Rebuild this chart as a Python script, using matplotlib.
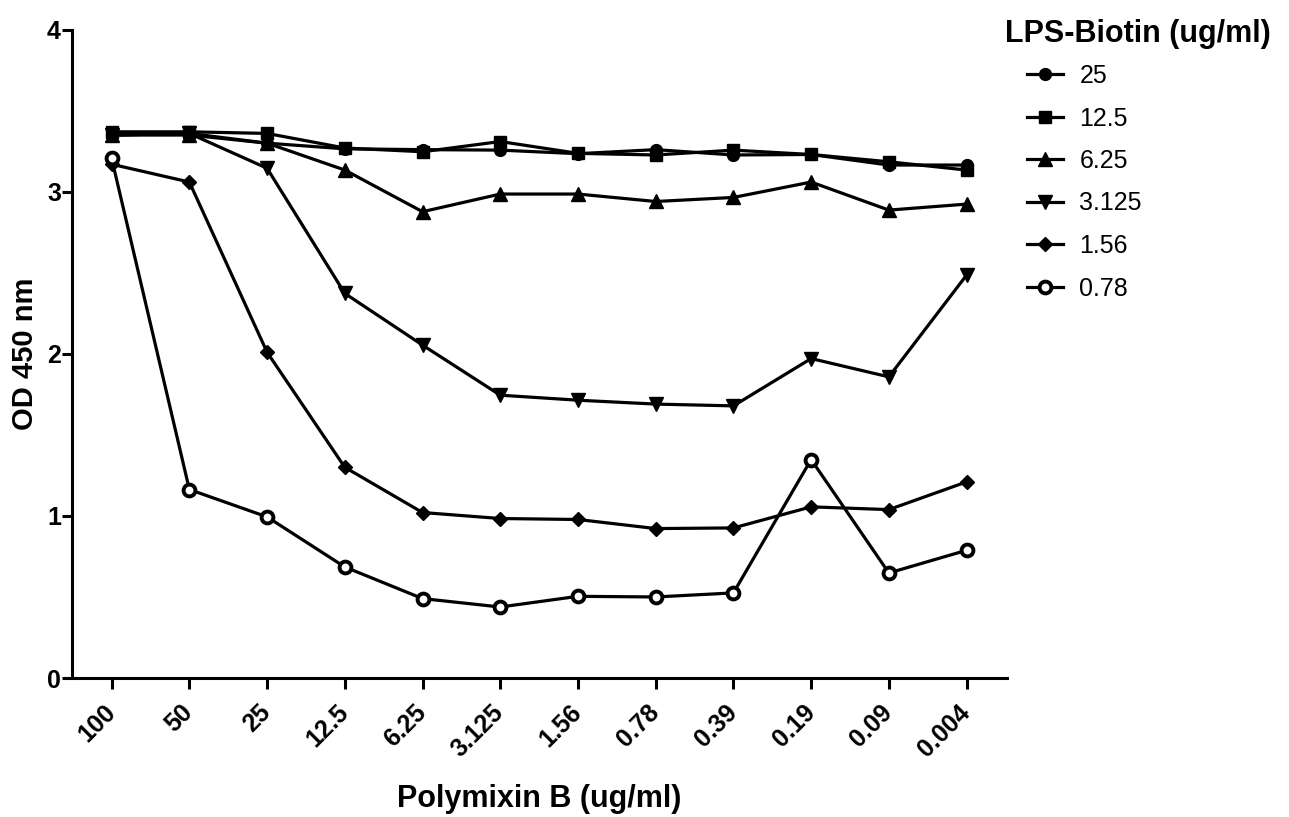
import matplotlib
matplotlib.use("Agg")
import matplotlib.pyplot as plt

plt.rcParams['font.family'] = ['Liberation Sans', 'DejaVu Sans']

x_labels = ['100', '50', '25', '12.5', '6.25', '3.125', '1.56', '0.78', '0.39', '0.19', '0.09', '0.004']

s25 = [3.35, 3.36, 3.30, 3.265, 3.26, 3.257, 3.235, 3.26, 3.227, 3.23, 3.165, 3.165]
s12_5 = [3.37, 3.37, 3.36, 3.27, 3.247, 3.31, 3.237, 3.227, 3.257, 3.23, 3.185, 3.134]
s6_25 = [3.35, 3.35, 3.30, 3.134, 2.877, 2.986, 2.986, 2.94, 2.965, 3.06, 2.887, 2.924]
s3_125 = [3.35, 3.36, 3.145, 2.373, 2.054, 1.745, 1.714, 1.69, 1.679, 1.971, 1.858, 2.486]
s1_56 = [3.17, 3.06, 2.01, 1.30, 1.021, 0.984, 0.978, 0.922, 0.926, 1.056, 1.039, 1.21]
s0_78 = [3.206, 1.163, 0.994, 0.685, 0.49, 0.438, 0.504, 0.50, 0.525, 1.348, 0.648, 0.788]

series_labels = ['25', '12.5', '6.25', '3.125', '1.56', '0.78']
series = [s25, s12_5, s6_25, s3_125, s1_56, s0_78]
markers = ['o', 's', '^', 'v', 'D', 'o']
msizes = [8.5, 9, 9.5, 9.5, 7.5, 8.5]

W, H = 1289, 817
fig = plt.figure(figsize=(W / 100, H / 100), dpi=100)
ax = fig.add_axes([72 / W, 1 - 678 / H, (1007 - 72) / W, (678 - 29.7) / H])

xs = list(range(len(x_labels)))
handles = []
for lab, ys, m, ms in zip(series_labels, series, markers, msizes):
    open_m = (lab == '0.78')
    h, = ax.plot(xs, ys, color='black', lw=2.3, marker=m, ms=ms,
                 mfc='white' if open_m else 'black', mec='black',
                 mew=2.8 if open_m else 1.0, label=lab, clip_on=False)
    handles.append(h)

ax.set_xlim(-0.51, 11.52)
ax.set_ylim(0, 4)
ax.set_yticks([0, 1, 2, 3, 4])
ax.set_xticks(xs)
ax.set_xticklabels(x_labels, rotation=45, ha='right', va='center',
                   rotation_mode='anchor')
for t in ax.get_xticklabels() + ax.get_yticklabels():
    t.set_fontsize(18)
    t.set_fontweight('bold')

for s in ['top', 'right']:
    ax.spines[s].set_visible(False)
for s in ['left', 'bottom']:
    ax.spines[s].set_linewidth(2.2)
ax.tick_params(axis='y', length=7, width=2.2, pad=1)
ax.tick_params(axis='x', length=8, width=2.2, pad=14)

ax.set_xlabel('Polymixin B (ug/ml)', fontsize=22, fontweight='bold', labelpad=16)
ax.set_ylabel('OD 450 nm', fontsize=21, fontweight='bold', labelpad=6)

fig.text(1005 / W, 1 - 42 / H, 'LPS-Biotin (ug/ml)', fontsize=22,
         fontweight='bold', va='baseline', ha='left')
leg = fig.legend(handles=handles, labels=series_labels, loc='upper left',
                 bbox_to_anchor=(1027 / W, 1 - 64 / H), frameon=False,
                 fontsize=18, borderpad=0, borderaxespad=0,
                 handlelength=1.45, handletextpad=0.65, labelspacing=0.74)

fig.savefig('out.png', dpi=100, facecolor='white')
